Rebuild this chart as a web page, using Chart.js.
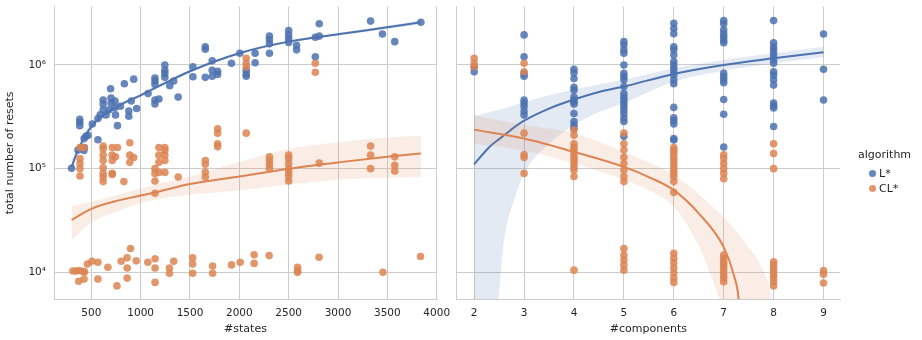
<!DOCTYPE html>
<html>
<head>
<meta charset="utf-8">
<script src="https://cdn.jsdelivr.net/npm/chart.js@4.4.0/dist/chart.umd.min.js"></script>
<style>
  body { margin: 0; background: #fff; }
  #wrap { position: relative; width: 922px; height: 340px; font-family: 'DejaVu Sans', sans-serif; color: #262626; }
  #left { position: absolute; left: 0; top: 0; }
  #right { position: absolute; left: 450px; top: 0; }
  .lg { position: absolute; font-size: 11px; line-height: 13px; white-space: nowrap; }
  .dot { position: absolute; width: 7px; height: 7px; border-radius: 50%; }
</style>
</head>
<body>
<div id="wrap">
  <canvas id="left" width="455" height="340"></canvas>
  <canvas id="right" width="472" height="340"></canvas>
  <div id="legend"></div>
</div>
<script>
// --- data: [#states, resets] ---
const lStarStates = [
  [300,1.01e5],[365,1.51e5],[383,3.0e5],[383,2.8e5],[383,2.6e5],[425,1.5e5],[430,1.6e5],[427,1.95e5],[445,2.05e5],
  [467,2.1e5],[510,2.7e5],[567,1.9e5],[567,3.05e5],[590,3.3e5],[620,4.6e5],[620,4.2e5],[620,3.7e5],[650,3.3e5],
  [680,3.7e5],[695,5.9e5],[700,4.8e5],[700,4.3e5],[740,4.5e5],[740,3.9e5],[745,3.3e5],[765,2.6e5],[795,4.0e5],
  [835,6.6e5],[880,3.6e5],[880,3.2e5],[905,4.5e5],[930,7.3e5],[960,3.8e5],[1075,5.3e5],[1145,7.5e5],[1145,7.0e5],
  [1145,6.5e5],[1145,4.6e5],[1145,4.2e5],[1185,4.7e5],[1245,1.0e6],[1245,8.9e5],[1245,8.3e5],[1245,7.6e5],
  [1295,6.3e5],[1335,7.0e5],[1380,4.9e5],[1530,9.6e5],[1530,7.7e5],[1655,1.5e6],[1655,1.42e6],[1655,7.6e5],
  [1725,1.1e6],[1725,8.9e5],[1725,7.8e5],[1780,8.7e5],[1780,8.1e5],[1920,1.04e6],[2005,1.3e6],[2070,8.9e5],
  [2070,8.2e5],[2070,7.8e5],[2160,1.3e6],[2160,1.05e6],[2305,1.9e6],[2305,1.75e6],[2305,1.6e6],[2305,1.3e6],
  [2500,2.15e6],[2500,1.95e6],[2500,1.8e6],[2500,1.65e6],[2580,1.55e6],[2580,1.4e6],[2770,1.2e6],[2770,1.85e6],
  [2810,2.5e6],[2810,1.9e6],[3330,2.65e6],[3450,1.99e6],[3575,1.68e6],[3840,2.58e6]
];
const clStarStates = [
  [385,1.6e5],[385,1.25e5],[385,1.12e5],[385,1.0e5],[385,8.5e4],[427,1.6e5],[620,1.65e5],[620,1.55e5],[620,1.35e5],
  [620,1.2e5],[620,1.02e5],[620,9.0e4],[620,8.3e4],[620,7.5e4],[712,1.6e5],[712,1.35e5],[712,1.2e5],[712,9.0e4],
  [712,8.8e4],[765,1.6e5],[745,1.3e5],[830,7.5e4],[890,1.78e5],[890,1.35e5],[890,1.15e5],[930,1.28e5],[1145,1.0e5],
  [1145,9.0e4],[1145,7.6e4],[1145,5.8e4],[1185,1.6e5],[1185,1.35e5],[1185,1.15e5],[1185,9.2e4],[1245,1.6e5],
  [1245,1.5e5],[1245,1.35e5],[1245,1.2e5],[1245,9.2e4],[1380,8.3e4],[1655,1.2e5],[1655,1.1e5],[1655,9.3e4],
  [1655,8.3e4],[1780,2.43e5],[1780,2.2e5],[1780,1.74e5],[1780,1.63e5],[2070,2.2e5],[2070,1.16e6],[2070,1.04e6],
  [2070,9.6e5],[2305,1.3e5],[2305,1.2e5],[2305,1.1e5],[2305,1.0e5],[2500,1.35e5],[2500,1.25e5],[2500,1.12e5],
  [2500,1.0e5],[2500,9.2e4],[2500,8.5e4],[2500,7.6e4],[2770,1.04e6],[2770,8.5e5],[2810,1.13e5],[3330,1.65e5],
  [3330,1.35e5],[3330,1.0e5],[3575,1.3e5],[3575,1.08e5],[3575,9.5e4],
  [313,1.03e4],[347,1.03e4],[380,1.04e4],[413,1.02e4],[432,1.01e4],[372,8.2e3],[427,8.6e3],[460,1.2e4],[507,1.28e4],
  [567,1.25e4],[567,8.6e3],[668,1.12e4],[760,7.4e3],[803,1.28e4],[863,1.38e4],[863,1.1e4],[863,8.8e3],[897,1.7e4],
  [955,1.29e4],[1073,1.25e4],[1146,1.35e4],[1146,1.1e4],[1146,8.0e3],[1292,1.1e4],[1292,9.8e3],[1335,1.28e4],
  [1527,1.38e4],[1527,1.2e4],[1527,9.8e3],[1729,1.15e4],[1729,9.8e3],[1921,1.18e4],[2009,1.25e4],[2150,1.48e4],
  [2150,1.22e4],[2302,1.45e4],[2590,1.12e4],[2590,1.03e4],[2590,1.0e4],[2808,1.4e4],[3455,1.0e4],[3836,1.42e4]
];

// --- data: [#components, [resets...]] ---
const lStarComponents = [
  [2, [9.6e5, 8.6e5]],
  [3, [1.95e6, 1.2e6, 8.3e5, 7.8e5, 4.6e5, 4.3e5, 4.0e5, 3.6e5, 3.3e5]],
  [4, [9.1e5, 8.4e5, 7.4e5, 6.1e5, 5.7e5, 4.9e5, 4.6e5, 4.4e5, 4.2e5, 3.4e5, 2.85e5, 2.64e5, 2.45e5]],
  [5, [1.68e6, 1.56e6, 1.4e6, 1.3e6, 1.0e6, 8.3e5, 7.7e5, 7.2e5, 6.2e5, 5.3e5, 4.9e5, 4.6e5, 4.3e5, 4.0e5, 3.7e5, 3.4e5, 3.1e5, 2.85e5, 2.05e5]],
  [6, [2.53e6, 2.25e6, 2.0e6, 1.5e6, 1.4e6, 1.25e6, 1.08e6, 1.0e6, 9.3e5, 8.6e5, 8.0e5, 7.2e5, 6.6e5, 3.9e5, 3.1e5, 2.9e5, 2.7e5, 1.95e5, 1.89e5]],
  [7, [2.68e6, 2.5e6, 2.18e6, 2.0e6, 1.87e6, 1.74e6, 1.64e6, 8.3e5, 7.7e5, 7.2e5, 6.75e5, 4.65e5, 3.35e5, 1.62e5]],
  [8, [2.68e6, 1.64e6, 1.5e6, 1.4e6, 1.3e6, 1.2e6, 1.12e6, 1.04e6, 8.6e5, 8.0e5, 7.2e5, 6.4e5, 4.3e5, 4.05e5, 3.85e5, 2.55e5]],
  [9, [1.99e6, 9.1e5, 4.6e5]]
];
const clStarComponents = [
  [2, [1.16e6, 1.04e6, 9.6e5]],
  [3, [1.04e6, 8.6e5, 2.2e5, 1.37e5, 1.28e5, 9.0e4]],
  [4, [2.36e5, 2.1e5, 1.74e5, 1.61e5, 1.51e5, 1.4e5, 1.29e5, 1.21e5, 1.12e5, 1.04e5, 9.7e4, 8.4e4, 1.05e4]],
  [5, [2.2e5, 1.74e5, 1.51e5, 1.29e5, 1.12e5, 9.7e4, 8.4e4, 7.5e4, 1.7e4, 1.47e4, 1.32e4, 1.18e4, 1.05e4]],
  [6, [1.6e5, 1.5e5, 1.4e5, 1.29e5, 1.21e5, 1.12e5, 1.04e5, 9.7e4, 9.0e4, 8.4e4, 7.5e4, 5.9e4, 1.53e4, 1.37e4, 1.23e4, 1.1e4, 9.9e3, 8.8e3, 8.0e3]],
  [7, [1.36e5, 1.25e5, 1.12e5, 1.0e5, 9.0e4, 8.0e4, 1.47e4, 1.36e4, 1.26e4, 1.18e4, 1.1e4, 1.02e4, 9.4e3, 8.8e3, 8.1e3]],
  [8, [1.74e5, 1.4e5, 1.0e5, 1.26e4, 1.18e4, 1.1e4, 1.02e4, 9.4e3, 8.8e3, 8.1e3, 7.4e3]],
  [9, [1.04e4, 9.6e3, 7.9e3]]
];

// regression curves + confidence bands
const statesFitX = [300, 365, 500, 760, 1000, 1500, 2000, 2500, 3000, 3500, 3840];
const lStarStatesFit = [1.04e5, 1.51e5, 2.55e5, 3.95e5, 5.1e5, 8.7e5, 1.3e6, 1.68e6, 1.98e6, 2.31e6, 2.58e6];
const lStarStatesLow = [8.6e4, 1.35e5, 2.38e5, 3.75e5, 4.9e5, 8.4e5, 1.26e6, 1.63e6, 1.92e6, 2.23e6, 2.47e6];
const lStarStatesHigh = [1.2e5, 1.66e5, 2.75e5, 4.15e5, 5.3e5, 9.0e5, 1.34e6, 1.73e6, 2.04e6, 2.4e6, 2.7e6];

const clStatesFitX = [300, 500, 800, 1140, 1500, 2000, 2500, 3000, 3500, 3840];
const clStarStatesFit = [3.2e4, 4.1e4, 5.0e4, 5.9e4, 7.1e4, 8.4e4, 1.0e5, 1.15e5, 1.3e5, 1.4e5];
const clStarStatesLow = [2.05e4, 3.0e4, 4.0e4, 5.0e4, 5.6e4, 6.2e4, 7.0e4, 7.8e4, 8.2e4, 8.3e4];
const clStarStatesHigh = [4.35e4, 4.8e4, 5.7e4, 7.0e4, 8.4e4, 1.16e5, 1.55e5, 1.8e5, 2.0e5, 2.08e5];

const compFitX = [2, 2.3, 2.45, 2.6, 2.8, 3, 3.5, 4, 4.5, 5, 6, 7, 8, 9];
const lStarCompFit = [1.1e5, 1.61e5, 1.85e5, 2.1e5, 2.5e5, 2.9e5, 3.8e5, 4.65e5, 5.5e5, 6.2e5, 8.2e5, 1.0e6, 1.16e6, 1.33e6];
const lStarCompLow = [3e3, 3e3, 4e3, 2.05e4, 5e4, 9e4, 1.74e5, 2.64e5, 3.5e5, 4.3e5, 6.9e5, 8.8e5, 1.04e6, 1.19e6];
const lStarCompHigh = [3.2e5, 3.5e5, 3.65e5, 3.8e5, 4.1e5, 4.4e5, 5.1e5, 5.8e5, 6.5e5, 7.2e5, 9.3e5, 1.12e6, 1.3e6, 1.5e6];

const clCompFitX = [2, 3, 4, 5, 5.5, 6, 6.5, 7, 7.2, 7.3, 7.4];
const clStarCompFit = [2.38e5, 1.95e5, 1.45e5, 1.04e5, 8.3e4, 6.2e4, 3.7e4, 1.75e4, 9.5e3, 5.5e3, 1e3];
const clCompBandX = [2, 3, 4, 5, 5.5, 6, 6.5, 6.75, 7, 7.45, 7.85, 8.0];
const clStarCompLow = [1.74e5, 1.5e5, 1.12e5, 7.8e4, 6.2e4, 4.3e4, 1.8e4, 9.1e3, 4.5e3, 3e3, 3e3, 3e3];
const clStarCompHigh = [3.3e5, 2.64e5, 2.2e5, 1.45e5, 1.15e5, 8.7e4, 5.7e4, 4.4e4, 3.4e4, 1.88e4, 9e3, 5e3];

// ticks
const statesTicks = [500, 1000, 1500, 2000, 2500, 3000, 3500, 4000];
const compTicks = [2, 3, 4, 5, 6, 7, 8, 9];
const yTicks = [1e4, 1e5, 1e6];
const yTickLabels = ['10⁴', '10⁵', '10⁶'];
const algorithms = ['L*', 'CL*'];

// colours (seaborn "deep")
const blue = '#4C72B0';
const orange = '#DD8452';
const blueDot = 'rgba(76,114,176,0.85)';
const orangeDot = 'rgba(221,132,82,0.85)';
const blueBand = 'rgba(76,114,176,0.15)';
const orangeBand = 'rgba(221,132,82,0.15)';
const gridColor = '#cccccc';
const textColor = '#262626';

Chart.defaults.font.family = "'DejaVu Sans', sans-serif";
Chart.defaults.color = textColor;

const pts = pairs => pairs.map(([x, y]) => ({x, y}));
const colPts = cols => cols.flatMap(([x, ys]) => ys.map(y => ({x, y})));
const curve = (xs, ys) => xs.map((x, i) => ({x, y: ys[i]}));

function scatterSet(label, data, color, order) {
    return { label, type: 'scatter', data, backgroundColor: color, borderColor: 'transparent', borderWidth: 0,
             pointRadius: 3.8, pointBorderWidth: 0, pointStyle: 'circle', order };
}
function lineSet(label, data, color, order) {
    return { label, type: 'line', data, borderColor: color, borderWidth: 2, pointRadius: 0, fill: false,
             cubicInterpolationMode: 'monotone', order };
}
function bandSets(label, high, low, color, order) {
    return [
        { label: label + ' hi', type: 'line', data: high, borderWidth: 0, borderColor: 'transparent', pointRadius: 0,
          fill: '+1', backgroundColor: color, cubicInterpolationMode: 'monotone', order },
        { label: label + ' lo', type: 'line', data: low, borderWidth: 0, borderColor: 'transparent', pointRadius: 0,
          fill: false, cubicInterpolationMode: 'monotone', order }
    ];
}

function yScale(showLabels, width) {
    return {
        type: 'logarithmic',
        min: 5530, max: 3.65e6,
        afterBuildTicks: s => { s.ticks = yTicks.map(v => ({value: v})); },
        afterFit: s => { s.width = width; s.paddingTop = 0; s.paddingBottom = 0; },
        grid: { color: gridColor, lineWidth: 1, drawTicks: false },
        border: { color: gridColor, width: 1 },
        ticks: {
            display: showLabels, padding: 8, font: { size: 10.5 },
            callback: v => yTickLabels[yTicks.indexOf(v)] ?? ''
        },
        title: { display: showLabels, text: 'total number of resets', font: { size: 11 }, padding: { top: 4, bottom: 4 } }
    };
}
function xScale(min, max, ticks, title) {
    return {
        type: 'linear', min, max,
        afterBuildTicks: s => { s.ticks = ticks.map(v => ({value: v})); },
        afterFit: s => { s.height = 41; s.paddingLeft = 0; s.paddingRight = 0; },
        grid: { color: gridColor, lineWidth: 1, drawTicks: false },
        border: { color: gridColor, width: 1 },
        ticks: { padding: 8, font: { size: 10.5 }, maxRotation: 0, callback: v => String(v) },
        title: { display: true, text: title, font: { size: 11 }, padding: { top: 4, bottom: 4 } }
    };
}

// Left panel: resets vs #states
new Chart(document.getElementById('left'), {
    type: 'scatter',
    data: {
        datasets: [
            scatterSet(algorithms[0], pts(lStarStates), blueDot, 6),
            scatterSet(algorithms[1], pts(clStarStates), orangeDot, 3),
            ...bandSets('L*', curve(statesFitX, lStarStatesHigh), curve(statesFitX, lStarStatesLow), blueBand, 5),
            lineSet('L* fit', curve(statesFitX, lStarStatesFit), blue, 4),
            ...bandSets('CL*', curve(clStatesFitX, clStarStatesHigh), curve(clStatesFitX, clStarStatesLow), orangeBand, 2),
            lineSet('CL* fit', curve(clStatesFitX, clStarStatesFit), orange, 1)
        ]
    },
    options: {
        responsive: false,
        animation: false,
        layout: { padding: { top: 6.7, right: 18, bottom: 0, left: 0 } },
        plugins: { legend: { display: false }, tooltip: { enabled: false } },
        scales: {
            x: xScale(122, 4003, statesTicks, '#states'),
            y: yScale(true, 54)
        }
    }
});

// Right panel: resets vs #components
new Chart(document.getElementById('right'), {
    type: 'scatter',
    data: {
        datasets: [
            scatterSet(algorithms[0], colPts(lStarComponents), blueDot, 6),
            scatterSet(algorithms[1], colPts(clStarComponents), orangeDot, 3),
            ...bandSets('L*', curve(compFitX, lStarCompHigh), curve(compFitX, lStarCompLow), blueBand, 5),
            lineSet('L* fit', curve(compFitX, lStarCompFit), blue, 4),
            ...bandSets('CL*', curve(clCompBandX, clStarCompHigh), curve(clCompBandX, clStarCompLow), orangeBand, 2),
            lineSet('CL* fit', curve(clCompFitX, clStarCompFit), orange, 1)
        ]
    },
    options: {
        responsive: false,
        animation: false,
        layout: { padding: { top: 6.7, right: 82, bottom: 0, left: 0 } },
        plugins: { legend: { display: false }, tooltip: { enabled: false } },
        scales: {
            x: xScale(1.65, 9.33, compTicks, '#components'),
            y: yScale(false, 6.7)
        }
    }
});

// legend (seaborn puts it outside the right panel)
const legendEl = document.getElementById('legend');
legendEl.innerHTML = `
    <div class="lg" style="left:858px; top:148px;">algorithm</div>
    ${algorithms.map((name, i) => `
        <span class="dot" style="left:868.5px; top:${169.5 + i * 15}px; background:${[blueDot, orangeDot][i]};"></span>
        <div class="lg" style="left:879px; top:${166.5 + i * 15}px;">${name}</div>`).join('')}
`;
</script>
</body>
</html>
